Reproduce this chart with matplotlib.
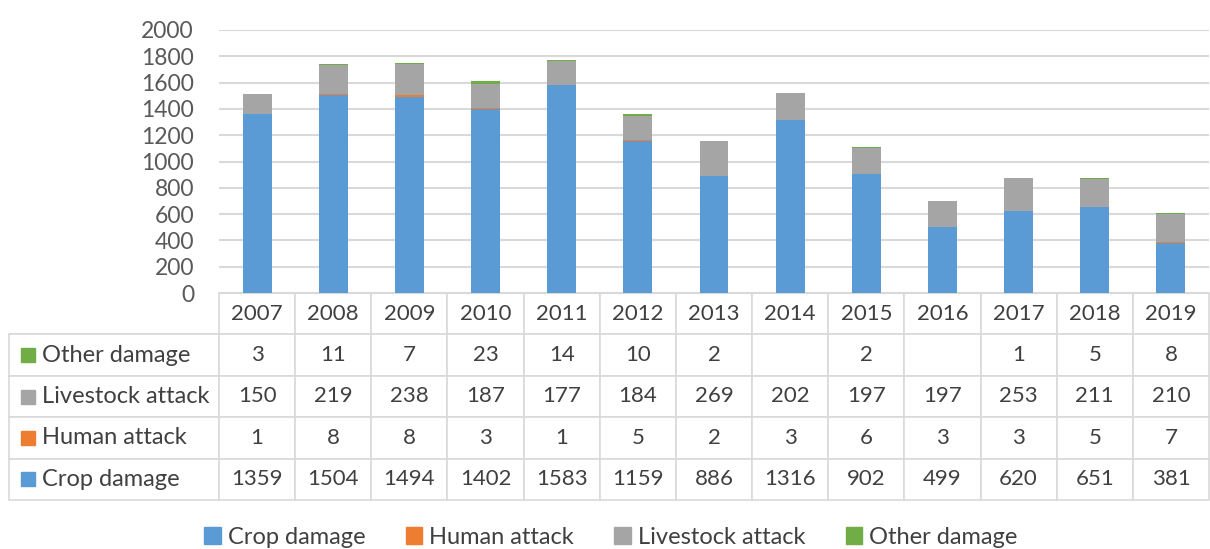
import numpy as np
from matplotlib import pyplot as plt
from matplotlib.patches import Patch, Rectangle

plt.rcParams['font.family'] = ['Lato', 'DejaVu Sans']

years = ['2007', '2008', '2009', '2010', '2011', '2012', '2013',
         '2014', '2015', '2016', '2017', '2018', '2019']
crop = [1359, 1504, 1494, 1402, 1583, 1159, 886, 1316, 902, 499, 620, 651, 381]
human = [1, 8, 8, 3, 1, 5, 2, 3, 6, 3, 3, 5, 7]
livestock = [150, 219, 238, 187, 177, 184, 269, 202, 197, 197, 253, 211, 210]
other = [3, 11, 7, 23, 14, 10, 2, None, 2, None, 1, 5, 8]

names = ['Crop damage', 'Human attack', 'Livestock attack', 'Other damage']
colors = ['#5b9bd5', '#ed7d31', '#a5a5a5', '#70ad47']
txt_col = '#404040'
grid_col = '#d9d9d9'

W, H = 1210, 549
fig = plt.figure(figsize=(W / 100, H / 100), dpi=100)
ax = fig.add_axes([219 / W, 1 - 293 / H, (1209 - 219) / W, (293 - 30) / H])

x = np.arange(len(years))
series = [np.array(crop, float), np.array(human, float), np.array(livestock, float),
          np.array([0 if v is None else v for v in other], float)]
bottom = np.zeros(len(years))
for vals, c, n in zip(series, colors, names):
    ax.bar(x, vals, 0.38, bottom=bottom, color=c, label=n, zorder=3)
    bottom += vals

ax.set_xlim(-0.5, len(years) - 0.5)
ax.set_ylim(0, 2000)
ax.set_yticks(np.arange(0, 2001, 200))
ax.set_xticks([])
ax.tick_params(axis='y', length=0, pad=18, labelsize=16.5, labelcolor='#595959')
ax.grid(axis='y', color=grid_col, linewidth=1.5, zorder=0)
for s in ['left', 'right', 'top']:
    ax.spines[s].set_visible(False)
ax.spines['bottom'].set_color(grid_col)

# data table under the bars, first column holds the series names
row_names = ['Other damage', 'Livestock attack', 'Human attack', 'Crop damage']
row_colors = [colors[3], colors[2], colors[1], colors[0]]
rows = [other, livestock, human, crop]
cell_text = [[nm] + ['' if v is None else str(v) for v in r]
             for nm, r in zip(row_names, rows)]

aw = 1209 - 219
ah = 293 - 30
tab_left, tab_right, tab_top, tab_bot = 9, 1209, 293, 500
col_w = (tab_right - 219) / len(years) / aw
lab_w = (219 - tab_left) / aw
tab = ax.table(cellText=cell_text, colLabels=[''] + years,
               colWidths=[lab_w] + [col_w] * len(years),
               cellLoc='center',
               bbox=[(tab_left - 219) / aw, -(tab_bot - 293) / ah,
                     (tab_right - tab_left) / aw, (tab_bot - tab_top) / ah])
tab.auto_set_font_size(False)
tab.set_fontsize(16)
for (r, c), cell in tab.get_celld().items():
    cell.set_edgecolor(grid_col)
    cell.set_linewidth(1.2)
    cell.get_text().set_color(txt_col)
    if c == 0:
        cell._loc = 'left'
        cell.PAD = 0.155
        cell.get_text().set_ha('left')
        cell.get_text().set_fontsize(17)
        if r == 0:
            cell.visible_edges = 'B'

# small colour keys in the row labels
row_h = (tab_bot - tab_top) / 5
for i, c in enumerate(row_colors):
    yc = tab_top + row_h * (i + 1.5)
    fig.patches.append(Rectangle((21 / W, 1 - (yc + 7) / H), 14 / W, 14 / H,
                                 transform=fig.transFigure, color=c))

handles = [Patch(color=c) for c in colors]
fig.legend(handles, names, loc='center', bbox_to_anchor=(611 / W, 1 - 537 / H),
           ncol=4, frameon=False, fontsize=17, handlelength=0.7, handleheight=0.7,
           handletextpad=0.3, columnspacing=1.7, labelcolor=txt_col)

fig.savefig('out.png', dpi=100)
